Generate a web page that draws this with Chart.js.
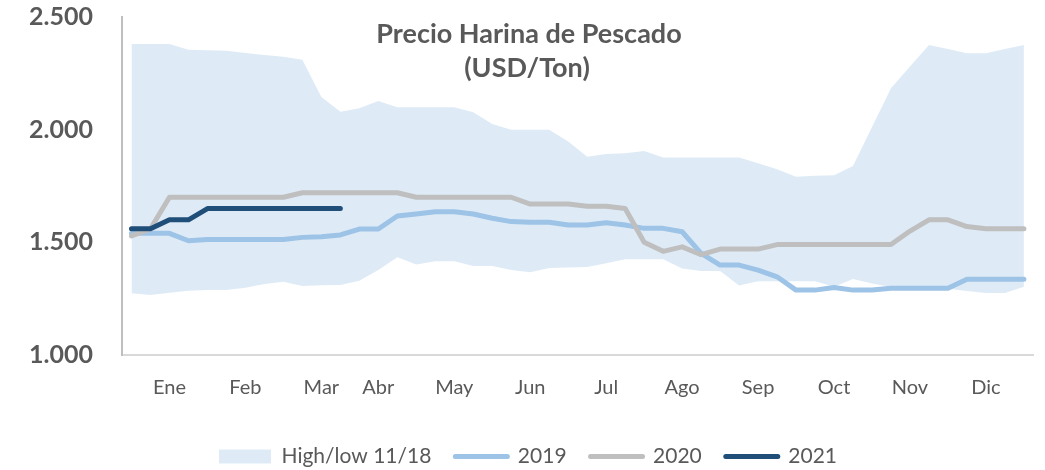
<!DOCTYPE html>
<html>
<head>
<meta charset="utf-8">
<script src="https://cdn.jsdelivr.net/npm/chart.js@4"></script>
<style>
html,body{margin:0;padding:0;background:#fff;}
#wrap{width:1045px;height:470px;}
</style>
</head>
<body>
<div id="wrap"><canvas id="c" width="1045" height="470"></canvas></div>
<script>
// ---- data ----
const months = ['Ene','Feb','Mar','Abr','May','Jun','Jul','Ago','Sep','Oct','Nov','Dic'];
const monthTickIndex = [2,6,10,13,17,21,25,29,33,37,41,45];
const weekCount = 48;
const titleLines = ['Precio Harina de Pescado','(USD/Ton)'];
const seriesNames = ['High/low 11/18','2019','2020','2021'];

const high = [2380,2380,2380,2355,2352,2350,2340,2331,2324,2310,
              2145,2080,2095,2127,2100,2100,2100,2100,2077,2025,
              2000,2000,2000,1947,1880,1892,1895,1905,1877,1877,
              1877,1877,1877,1851,1824,1791,1795,1798,1839,2012,
              2184,2280,2376,2358,2339,2339,2358,2376];
const low  = [1274,1266,1276,1285,1288,1288,1299,1315,1325,1306,
              1309,1311,1330,1377,1434,1402,1416,1416,1395,1395,
              1377,1367,1386,1388,1390,1407,1425,1425,1425,1384,
              1373,1373,1308,1327,1327,1327,1327,1303,1337,1317,
              1302,1302,1302,1294,1284,1275,1275,1303];
const s2019 = [1540,1540,1540,1507,1513,1513,1513,1513,1513,1522,
               1525,1533,1559,1559,1617,1626,1636,1636,1626,1607,
               1592,1589,1589,1577,1577,1587,1577,1562,1562,1547,
               1451,1399,1399,1377,1347,1288,1288,1300,1288,1288,
               1296,1296,1296,1296,1336,1336,1336,1336];
const s2020 = [1528,1560,1700,1700,1700,1700,1700,1700,1700,1720,
               1720,1720,1720,1720,1720,1700,1700,1700,1700,1700,
               1700,1670,1670,1670,1660,1660,1650,1500,1460,1480,
               1445,1470,1470,1470,1490,1490,1490,1490,1490,1490,
               1490,1550,1600,1600,1570,1560,1560,1560];
const s2021 = [1560,1560,1600,1600,1650,1650,1650,1650,1650,1650,1650,1650];

const yMin = 1000, yMax = 2500, yStep = 500;

// ---- build labels ----
const labels = Array.from({length: weekCount}, () => '');
monthTickIndex.forEach((idx, k) => { labels[idx] = months[k]; });

const TXT = '#595959';
const FONT = 'Lato';
const colBand = '#DEEBF7', col2019 = '#9DC3E6', col2020 = '#BFBFBF', col2021 = '#1F4E79';

const titlePlugin = {
  id: 'overlayTitle',
  afterDraw(chart) {
    const ctx = chart.ctx;
    ctx.save();
    ctx.fillStyle = TXT;
    ctx.font = 'bold 27px ' + FONT;
    ctx.textAlign = 'center';
    ctx.textBaseline = 'alphabetic';
    ctx.fillText(titleLines[0], 529, 43);
    ctx.fillText(titleLines[1], 527, 77);
    ctx.restore();
  }
};

new Chart(document.getElementById('c'), {
  type: 'line',
  data: {
    labels: labels,
    datasets: [
      { label: seriesNames[0], data: high, fill: '+1', backgroundColor: colBand, borderWidth: 0, pointRadius: 0, order: 4, tension: 0 },
      { label: 'low', data: low, fill: false, borderWidth: 0, pointRadius: 0, order: 5 },
      { label: seriesNames[1], data: s2019, borderColor: col2019, borderWidth: 5, pointRadius: 0, borderCapStyle: 'round', borderJoinStyle: 'round', fill: false, order: 2 },
      { label: seriesNames[2], data: s2020, borderColor: col2020, borderWidth: 5, pointRadius: 0, borderCapStyle: 'round', borderJoinStyle: 'round', fill: false, order: 1 },
      { label: seriesNames[3], data: s2021, borderColor: col2021, borderWidth: 5, pointRadius: 0, borderCapStyle: 'round', borderJoinStyle: 'round', fill: false, order: 0 }
    ]
  },
  options: {
    responsive: false,
    animation: false,
    devicePixelRatio: 1,
    layout: { padding: { left: 20, right: 9, top: 17, bottom: -7 } },
    plugins: {
      title: { display: false },
      tooltip: { enabled: false },
      legend: {
        position: 'bottom',
        labels: {
          usePointStyle: true,
          pointStyleWidth: 52,
          boxHeight: 14,
          padding: 24,
          color: TXT,
          font: { family: FONT, size: 21 },
          generateLabels(chart) {
            const ds = chart.data.datasets;
            return [0,2,3,4].map(i => {
              const d = ds[i];
              if (i === 0) {
                return { text: d.label, fillStyle: colBand, strokeStyle: colBand, lineWidth: 0, pointStyle: 'rect', datasetIndex: i, fontColor: TXT };
              }
              return { text: d.label, fillStyle: d.borderColor, strokeStyle: d.borderColor, lineWidth: 5, lineCap: 'round', pointStyle: 'line', datasetIndex: i, fontColor: TXT };
            });
          }
        }
      }
    },
    scales: {
      x: {
        type: 'category',
        offset: true,
        grid: { display: false, drawTicks: false },
        border: { display: true, color: '#D9D9D9', width: 2 },
        ticks: { autoSkip: false, maxRotation: 0, minRotation: 0, padding: 21, color: TXT, font: { family: FONT, size: 20 } },
        afterFit(scale) { scale.height = 67; }
      },
      y: {
        min: yMin, max: yMax,
        grid: { display: false, drawTicks: false },
        border: { display: true, color: '#BFBFBF', width: 2 },
        ticks: {
          stepSize: yStep, padding: 29, color: TXT,
          font: { family: FONT, size: 25, weight: 'bold' },
          callback: v => String(v).replace(/\B(?=(\d{3})+(?!\d))/g, '.')
        },
        afterFit(scale) { scale.width = 102; scale.paddingTop = 0; scale.paddingBottom = 0; }
      }
    }
  },
  plugins: [titlePlugin]
});
</script>
</body>
</html>
